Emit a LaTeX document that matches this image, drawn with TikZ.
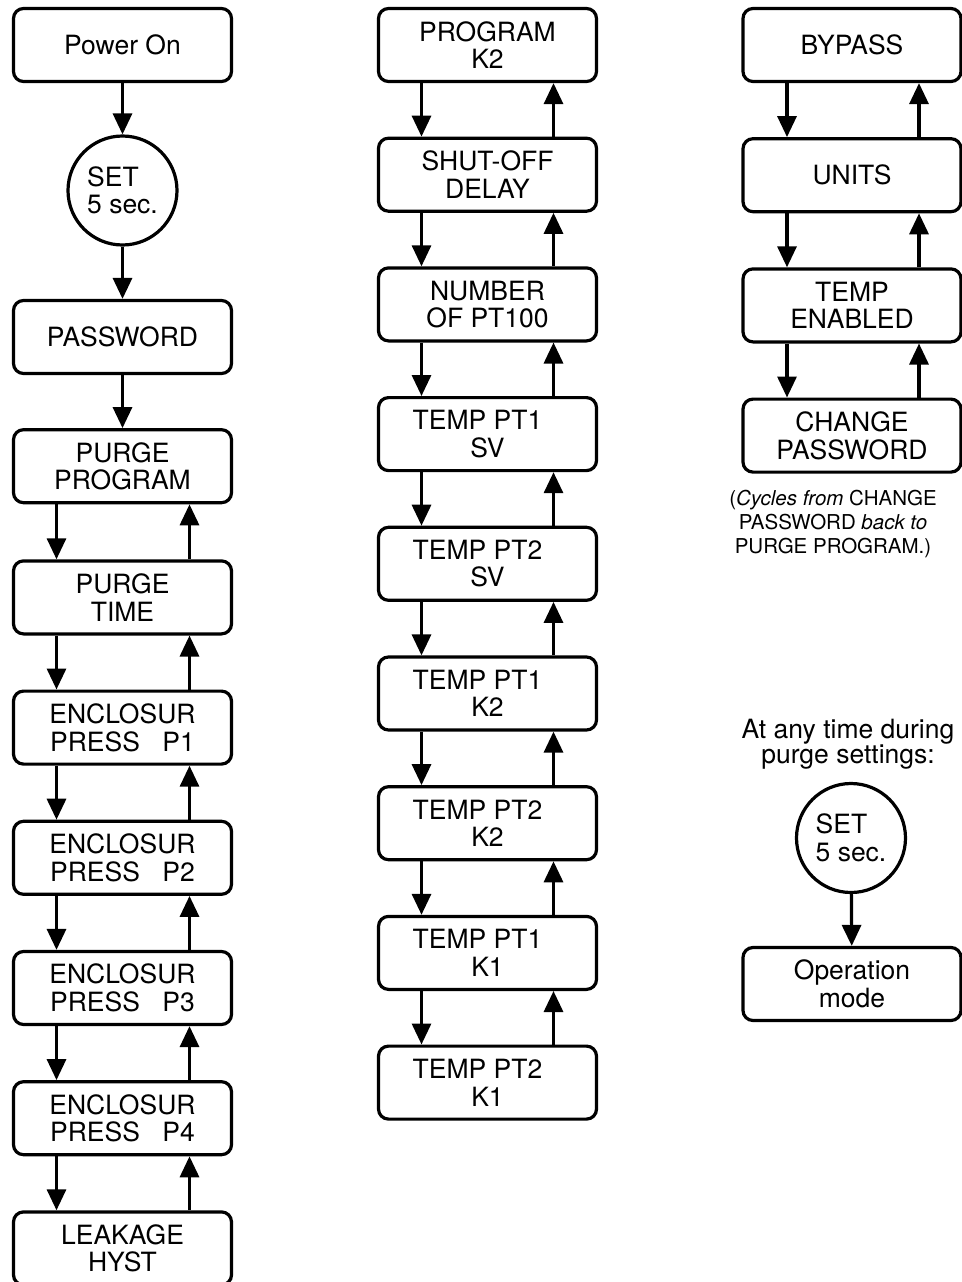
\documentclass[tikz,border=0pt]{standalone}
\usepackage{fontspec}
\setmainfont{TeX Gyre Heros}
\usetikzlibrary{positioning, arrows.meta}

\begin{document}
\begin{tikzpicture}[
		x=1pt, y=-1pt,
		% Style for the menu boxes
		menubox/.style={
			draw, line width=3.2pt, rounded corners=10pt,
			minimum width=218pt, minimum height=73pt,
			inner sep=2pt, align=center,
			font=\fontsize{26.5}{27.5}\selectfont
		},
		% Style for the SET button circle
		setkey/.style={
			draw, circle, line width=3.2pt, minimum size=109pt,
			inner sep=0pt, align=left,
			font=\fontsize{26.5}{27.5}\selectfont
		},
		% Arrows and notes
		arr/.style={line width=3.2pt, -{Triangle[length=21pt, width=19pt]}},
		note/.style={align=center, font=\fontsize{20.5}{24}\selectfont},
		hint/.style={align=center, font=\fontsize{26.5}{24}\selectfont}
		]

	\useasboundingbox (0,0) rectangle (961,1282);

	% ==============================================================================
	% LEFT COLUMN: power on and purge settings
	% ==============================================================================
	\node[menubox] (power) at (122.5, 45) {Power On};
	\node[setkey] (set1) at (122.5, 190.5) {SET\\5 sec.};
	\node[menubox] (password) at (122.5, 337) {PASSWORD};
	\node[menubox, below=53pt of password] (purgeprog) {PURGE\\PROGRAM};
	\node[menubox, below=55pt of purgeprog] (purgetime) {PURGE\\TIME};
	\node[menubox, below=54pt of purgetime] (encl1) {ENCLOSUR\\PRESS\hspace{0.85em}P1};
	\node[menubox, below=54pt of encl1] (encl2) {ENCLOSUR\\PRESS\hspace{0.85em}P2};
	\node[menubox, below=54pt of encl2] (encl3) {ENCLOSUR\\PRESS\hspace{0.85em}P3};
	\node[menubox, below=54pt of encl3] (encl4) {ENCLOSUR\\PRESS\hspace{0.85em}P4};
	\node[menubox, below=54pt of encl4] (leakage) {LEAKAGE\\HYST};

	\draw[arr] (power) -- (set1);
	\draw[arr] (set1) -- (password);
	\draw[arr] (password) -- (purgeprog);

	% Down / up pairs
	\draw[arr] ([xshift=-66pt]purgeprog.south) -- ([xshift=-66pt]purgetime.north);
	\draw[arr] ([xshift=67pt]purgetime.north) -- ([xshift=67pt]purgeprog.south);
	\draw[arr] ([xshift=-66pt]purgetime.south) -- ([xshift=-66pt]encl1.north);
	\draw[arr] ([xshift=67pt]encl1.north) -- ([xshift=67pt]purgetime.south);
	\draw[arr] ([xshift=-66pt]encl1.south) -- ([xshift=-66pt]encl2.north);
	\draw[arr] ([xshift=67pt]encl2.north) -- ([xshift=67pt]encl1.south);
	\draw[arr] ([xshift=-66pt]encl2.south) -- ([xshift=-66pt]encl3.north);
	\draw[arr] ([xshift=67pt]encl3.north) -- ([xshift=67pt]encl2.south);
	\draw[arr] ([xshift=-66pt]encl3.south) -- ([xshift=-66pt]encl4.north);
	\draw[arr] ([xshift=67pt]encl4.north) -- ([xshift=67pt]encl3.south);
	\draw[arr] ([xshift=-66pt]encl4.south) -- ([xshift=-66pt]leakage.north);
	\draw[arr] ([xshift=67pt]leakage.north) -- ([xshift=67pt]encl4.south);

	% ==============================================================================
	% MIDDLE COLUMN: temperature settings
	% ==============================================================================
	\node[menubox] (progk2) at (487.5, 45) {PROGRAM\\K2};
	\node[menubox, below=53.5pt of progk2] (shutoff) {SHUT-OFF\\DELAY};
	\node[menubox, below=53.5pt of shutoff] (numpt) {NUMBER\\OF PT100};
	\node[menubox, below=53.5pt of numpt] (pt1sv) {TEMP PT1\kern20pt\\SV};
	\node[menubox, below=53.5pt of pt1sv] (pt2sv) {TEMP PT2\kern20pt\\SV};
	\node[menubox, below=53.5pt of pt2sv] (pt1k2) {TEMP PT1\kern20pt\\K2};
	\node[menubox, below=53.5pt of pt1k2] (pt2k2) {TEMP PT2\kern20pt\\K2};
	\node[menubox, below=53.5pt of pt2k2] (pt1k1) {TEMP PT1\kern20pt\\K1};
	\node[menubox, below=53.5pt of pt1k1] (pt2k1) {TEMP PT2\kern20pt\\K1};

	\draw[arr] ([xshift=-66pt]progk2.south) -- ([xshift=-66pt]shutoff.north);
	\draw[arr] ([xshift=66pt]shutoff.north) -- ([xshift=66pt]progk2.south);
	\draw[arr] ([xshift=-66pt]shutoff.south) -- ([xshift=-66pt]numpt.north);
	\draw[arr] ([xshift=66pt]numpt.north) -- ([xshift=66pt]shutoff.south);
	\draw[arr] ([xshift=-66pt]numpt.south) -- ([xshift=-66pt]pt1sv.north);
	\draw[arr] ([xshift=66pt]pt1sv.north) -- ([xshift=66pt]numpt.south);
	\draw[arr] ([xshift=-66pt]pt1sv.south) -- ([xshift=-66pt]pt2sv.north);
	\draw[arr] ([xshift=66pt]pt2sv.north) -- ([xshift=66pt]pt1sv.south);
	\draw[arr] ([xshift=-66pt]pt2sv.south) -- ([xshift=-66pt]pt1k2.north);
	\draw[arr] ([xshift=66pt]pt1k2.north) -- ([xshift=66pt]pt2sv.south);
	\draw[arr] ([xshift=-66pt]pt1k2.south) -- ([xshift=-66pt]pt2k2.north);
	\draw[arr] ([xshift=66pt]pt2k2.north) -- ([xshift=66pt]pt1k2.south);
	\draw[arr] ([xshift=-66pt]pt2k2.south) -- ([xshift=-66pt]pt1k1.north);
	\draw[arr] ([xshift=66pt]pt1k1.north) -- ([xshift=66pt]pt2k2.south);
	\draw[arr] ([xshift=-66pt]pt1k1.south) -- ([xshift=-66pt]pt2k1.north);
	\draw[arr] ([xshift=66pt]pt2k1.north) -- ([xshift=66pt]pt1k1.south);

	% ==============================================================================
	% RIGHT COLUMN: bypass, units, password and exit
	% ==============================================================================
	\node[menubox] (bypass) at (852, 45) {BYPASS};
	\node[menubox, below=54pt of bypass] (units) {UNITS};
	\node[menubox, below=54pt of units] (tempen) {TEMP\\ENABLED};
	\node[menubox, below=54pt of tempen] (chgpass) {CHANGE\\PASSWORD};

	\draw[arr] ([xshift=-65pt]bypass.south) -- ([xshift=-65pt]units.north);
	\draw[arr] ([xshift=67pt]units.north) -- ([xshift=67pt]bypass.south);
	\draw[arr] ([xshift=-65pt]units.south) -- ([xshift=-65pt]tempen.north);
	\draw[arr] ([xshift=67pt]tempen.north) -- ([xshift=67pt]units.south);
	\draw[arr] ([xshift=-65pt]tempen.south) -- ([xshift=-65pt]chgpass.north);
	\draw[arr] ([xshift=67pt]chgpass.north) -- ([xshift=67pt]tempen.south);

	\node[note] (cyclenote) at (833, 524) {(\textit{Cycles from} CHANGE\\PASSWORD \textit{back to}\\PURGE PROGRAM.)};

	\node[hint] (anytime) at (848, 744) {At any time during\\purge settings:};
	\node[setkey] (set2) at (851, 838) {SET\\5 sec.};
	\node[menubox] (opmode) at (852, 984) {Operation\\mode};

	\draw[arr] (set2) -- (opmode);
\end{tikzpicture}
\end{document}
